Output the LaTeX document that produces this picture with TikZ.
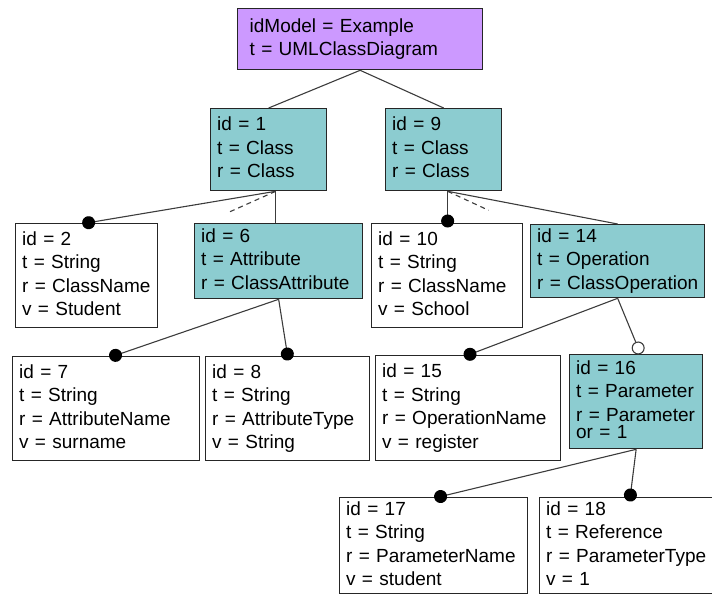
\documentclass[tikz,border=0pt]{standalone}
\usepackage{fontspec}
\setmainfont{Liberation Sans}
\usetikzlibrary{arrows.meta}

\definecolor{elemfill}{RGB}{140,204,208}
\definecolor{rootfill}{RGB}{204,153,255}
\definecolor{edgegray}{RGB}{60,60,60}

% one row per field, no line breaking inside a box
\newcommand{\attrs}[1]{\begin{tabular}{@{}l@{}}#1\end{tabular}}

\tikzset{
  box/.style={draw=black!85, line width=1.3pt, anchor=north west, align=left,
    inner xsep=6.5pt, inner ysep=0pt, font=\fontsize{19}{23.5}\selectfont},
  leaf/.style={box, fill=white},
  elem/.style={box, fill=elemfill},
  link/.style={draw=edgegray, line width=1.1pt},
  sub/.style={link, -{Circle[length=13pt, black]}, shorten >=-4.5pt},
  opt/.style={link, -{Circle[open, length=13pt, fill=white]}},
  ord/.style={link, dash pattern=on 5pt off 4pt},
}

\begin{document}
\begin{tikzpicture}[x=1pt, y=1pt]
\useasboundingbox (0,0) rectangle (712,-595);

% model
\node [box, fill=rootfill, inner xsep=12pt, text width=221pt, minimum height=61pt] (root) at (237,-8)
  {\attrs{idModel = Example\\t = UMLClassDiagram}};

% classes
\node [elem, text width=103pt, minimum height=82pt] (n1) at (210,-108) {\attrs{id = 1\\t = Class\\r = Class}};
\node [elem, text width=103pt, minimum height=82pt] (n9) at (385,-108) {\attrs{id = 9\\t = Class\\r = Class}};

% second level
\node [leaf, text width=129pt, minimum height=104pt] (n2) at (15,-223)
  {\attrs{id = 2\\t = String\\r = ClassName\\v = Student}};
\node [elem, text width=155pt, minimum height=75pt] (n6) at (194,-223)
  {\attrs{id = 6\\t = Attribute\\r = ClassAttribute}};
\node [leaf, text width=138pt, minimum height=104pt] (n10) at (371,-223)
  {\attrs{id = 10\\t = String\\r = ClassName\\v = School}};
\node [elem, text width=161pt, minimum height=73pt] (n14) at (530,-224)
  {\attrs{id = 14\\t = Operation\\r = ClassOperation}};

% third level
\node [leaf, text width=174pt, minimum height=104pt] (n7) at (12,-356)
  {\attrs{id = 7\\t = String\\r = AttributeName\\v = surname}};
\node [leaf, text width=151pt, minimum height=104pt] (n8) at (205,-356)
  {\attrs{id = 8\\t = String\\r = AttributeType\\v = String}};
\node [leaf, text width=172pt, minimum height=105pt] (n15) at (375,-355)
  {\attrs{id = 15\\t = String\\r = OperationName\\v = register}};
\node [elem, text width=120pt, minimum height=94pt] (n16) at (569,-354)
  {\attrs{id = 16\\t = Parameter\\r = Parameter\\[-6pt]or = 1}};

% parameters
\node [leaf, text width=175pt, minimum height=96pt] (n17) at (339,-497)
  {\attrs{id = 17\\t = String\\r = ParameterName\\v = student}};
\node [leaf, text width=162pt, minimum height=96pt] (n18) at (539,-497)
  {\attrs{id = 18\\t = Reference\\r = ParameterType\\v = 1}};

% connectors
\draw [link] (root.south) -- (n1.north);
\draw [link] (root.south) -- (n9.north);

\coordinate (n1b) at ([xshift=7pt]n1.south);
\coordinate (o1) at ([shift={(-47pt,-21pt)}]n1b);
\draw [sub] (n1b) -- (n2.north);
\draw [ord] (n1b) -- (o1);
\draw [link] (n1b) -- (n1b |- n6.north);

\coordinate (n9b) at ([xshift=4pt]n9.south);
\coordinate (o9) at ([shift={(41pt,-19pt)}]n9b);
\draw [sub] (n9b) -- (n9b |- n10.north);
\draw [ord] (n9b) -- (o9);
\draw [link] (n9b) -- (n14.north);

\draw [sub] (n6.south) -- ([xshift=7.5pt]n7.north);
\draw [sub] (n6.south) -- (n8.north);

\draw [sub] (n14.south) -- (n15.north);
\draw [opt] (n14.south) -- ([xshift=4.5pt]n16.north);

\draw [sub] (n16.south) -- ([xshift=5pt]n17.north);
\draw [sub] (n16.south) -- ([xshift=3pt]n18.north);

\end{tikzpicture}
\end{document}
